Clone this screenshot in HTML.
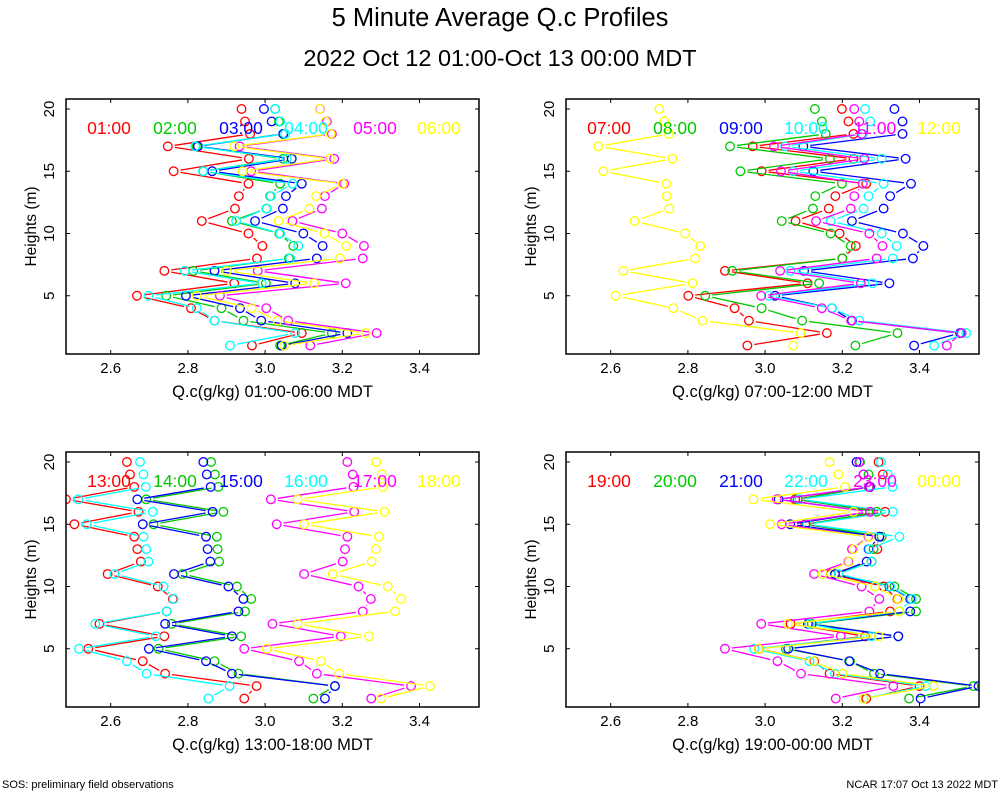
<!DOCTYPE html>
<html><head><meta charset="utf-8"><style>
body{margin:0;background:#fff;}
svg{display:block;font-family:"Liberation Sans",sans-serif;}
</style></head><body>
<svg id="chart" width="1000" height="800">
<text x="500" y="26" font-size="25.5" text-anchor="middle">5 Minute Average Q.c Profiles</text>
<text x="500" y="66" font-size="23.5" text-anchor="middle">2022 Oct 12 01:00-Oct 13 00:00 MDT</text>
<text x="2" y="788" font-size="11">SOS: preliminary field observations</text>
<text x="998" y="788" font-size="11" text-anchor="end">NCAR 17:07 Oct 13 2022 MDT</text>
</svg>
<script>
const heights=[20,19,18,17,16,15,14,13,12,11,10,9,8,7,6,5,4,3,2,1];
const xTicks=[2.6,2.8,3.0,3.2,3.4];
const xTickLabels=["2.6","2.8","3.0","3.2","3.4"];
const yTicks=[5,10,15,20];
const colors=["#ff0000","#00c800","#0000ff","#00ffff","#ff00ff","#ffff00"];
const p1Labels=["01:00","02:00","03:00","04:00","05:00","06:00"];
const p2Labels=["07:00","08:00","09:00","10:00","11:00","12:00"];
const p3Labels=["13:00","14:00","15:00","16:00","17:00","18:00"];
const p4Labels=["19:00","20:00","21:00","22:00","23:00","00:00"];
const p1Red=[2.939,2.948,2.961,2.748,2.958,2.763,2.957,2.932,2.922,2.836,2.957,2.993,2.979,2.739,2.920,2.668,2.808,2.869,3.095,2.966];
const p1Green=[3.026,3.036,3.047,2.823,3.047,2.840,3.039,3.013,3.004,2.914,3.037,3.073,3.062,2.814,3.002,2.744,2.887,2.944,3.173,3.039];
const p1Blue=[2.997,3.017,3.047,2.826,3.069,2.863,3.095,3.054,3.046,2.974,3.099,3.149,3.134,2.869,3.078,2.795,2.935,2.990,3.213,3.043];
const p1Cyan=[3.026,3.039,3.052,2.819,3.056,2.839,3.071,3.015,3.003,2.925,3.039,3.086,3.065,2.792,2.991,2.698,2.823,2.869,3.078,2.909];
const p1Magenta=[3.142,3.160,3.173,2.934,3.179,2.964,3.205,3.155,3.147,3.071,3.200,3.256,3.253,2.981,3.209,2.883,3.003,3.060,3.289,3.117];
const p1Yellow=[3.141,3.157,3.170,2.920,3.168,2.942,3.201,3.132,3.115,3.035,3.154,3.210,3.194,2.901,3.127,2.823,2.965,3.032,3.261,3.049];
const p2Red=[3.199,3.216,3.229,2.968,3.229,2.991,3.262,3.182,3.165,3.079,3.193,3.235,3.200,2.896,3.110,2.801,2.921,2.958,3.160,2.954];
const p2Green=[3.129,3.147,3.157,2.909,3.168,2.936,3.199,3.130,3.124,3.043,3.170,3.222,3.200,2.915,3.140,2.845,2.991,3.096,3.343,3.234];
const p2Blue=[3.335,3.356,3.356,3.099,3.364,3.125,3.378,3.324,3.307,3.225,3.357,3.410,3.383,3.101,3.322,3.026,3.173,3.225,3.505,3.386];
const p2Cyan=[3.259,3.272,3.253,3.052,3.302,3.073,3.307,3.268,3.255,3.170,3.302,3.341,3.331,3.065,3.278,3.010,3.173,3.244,3.521,3.438];
const p2Magenta=[3.231,3.244,3.250,3.023,3.257,3.041,3.253,3.231,3.222,3.132,3.270,3.304,3.289,3.039,3.248,2.990,3.147,3.223,3.509,3.471];
const p2Yellow=[2.726,2.739,2.751,2.568,2.760,2.581,2.744,2.745,2.752,2.662,2.793,2.832,2.819,2.633,2.812,2.613,2.762,2.838,3.092,3.073];
const p3Red=[2.642,2.650,2.661,2.484,2.672,2.506,2.661,2.669,2.678,2.592,2.722,2.761,2.745,2.571,2.739,2.542,2.683,2.741,2.978,2.946];
const p3Green=[2.860,2.870,2.879,2.692,2.892,2.711,2.875,2.877,2.881,2.786,2.927,2.964,2.948,2.758,2.938,2.724,2.869,2.931,3.181,3.125];
const p3Blue=[2.840,2.849,2.859,2.669,2.864,2.683,2.847,2.851,2.858,2.764,2.905,2.944,2.931,2.741,2.914,2.699,2.847,2.914,3.181,3.155];
const p3Cyan=[2.676,2.685,2.691,2.516,2.709,2.538,2.685,2.692,2.698,2.610,2.737,2.763,2.745,2.560,2.717,2.518,2.642,2.693,2.908,2.853];
const p3Magenta=[3.213,3.227,3.229,3.015,3.231,3.030,3.213,3.207,3.201,3.101,3.242,3.274,3.253,3.019,3.196,2.946,3.088,3.134,3.378,3.275];
const p3Yellow=[3.288,3.302,3.305,3.084,3.309,3.101,3.295,3.287,3.276,3.175,3.318,3.352,3.337,3.084,3.269,3.004,3.145,3.192,3.427,3.301];
const p4Red=[3.294,3.305,3.272,3.078,3.311,3.104,3.296,3.291,3.276,3.170,3.307,3.343,3.324,3.066,3.259,2.984,3.127,3.167,3.400,3.262];
const p4Green=[3.246,3.268,3.268,3.084,3.289,3.108,3.302,3.281,3.276,3.181,3.335,3.391,3.391,3.121,3.345,3.054,3.220,3.282,3.540,3.373];
const p4Blue=[3.237,3.255,3.272,3.035,3.272,3.065,3.296,3.268,3.263,3.181,3.322,3.376,3.376,3.111,3.345,3.060,3.218,3.298,3.553,3.403];
const p4Cyan=[3.300,3.318,3.330,3.089,3.331,3.110,3.348,3.270,3.276,3.190,3.324,3.380,3.348,3.115,3.275,2.972,3.115,3.181,3.416,3.255];
const p4Magenta=[3.244,3.255,3.269,3.030,3.272,3.043,3.268,3.225,3.216,3.127,3.250,3.296,3.270,2.990,3.196,2.896,3.032,3.093,3.332,3.183];
const p4Yellow=[3.167,3.190,3.207,2.970,3.229,3.013,3.270,3.229,3.218,3.149,3.285,3.345,3.347,3.059,3.295,2.983,3.125,3.201,3.436,3.256];

const NS="http://www.w3.org/2000/svg";
const svg=document.getElementById('chart');
function mk(tag,attrs,parent){const e=document.createElementNS(NS,tag);for(const k in attrs)e.setAttribute(k,attrs[k]);(parent||svg).appendChild(e);return e;}

const panels=[
 {ox:0,oy:0,labels:p1Labels,series:[p1Red,p1Green,p1Blue,p1Cyan,p1Magenta,p1Yellow],title:"Q.c(g/kg) 01:00-06:00 MDT"},
 {ox:500,oy:0,labels:p2Labels,series:[p2Red,p2Green,p2Blue,p2Cyan,p2Magenta,p2Yellow],title:"Q.c(g/kg) 07:00-12:00 MDT"},
 {ox:0,oy:353,labels:p3Labels,series:[p3Red,p3Green,p3Blue,p3Cyan,p3Magenta,p3Yellow],title:"Q.c(g/kg) 13:00-18:00 MDT"},
 {ox:500,oy:353,labels:p4Labels,series:[p4Red,p4Green,p4Blue,p4Cyan,p4Magenta,p4Yellow],title:"Q.c(g/kg) 19:00-00:00 MDT"}
];
const legendX=[109,175,241,306,375,439];

panels.forEach((p,pi)=>{
  const g=mk('g',{});
  
  
  const L=66+p.ox,R=479+p.ox,T=99+p.oy,B=354+p.oy;
  const xs=v=>110.7+p.ox+(v-2.6)*386;
  const ys=h=>109+p.oy+(20-h)*12.45;
  const clip='clip'+pi;
  const cp=mk('clipPath',{id:clip},g);mk('rect',{x:L,y:T,width:R-L,height:B-T},cp);
  p.series.forEach((vals,si)=>{
    const sg=mk('g',{'clip-path':'url(#'+clip+')'},g);
    
    
    for(let i=2;i<heights.length-1;i++){
      const x1=xs(vals[i]),y1=ys(heights[i]),x2=xs(vals[i+1]),y2=ys(heights[i+1]);
      const dx=x2-x1,dy=y2-y1,d=Math.hypot(dx,dy),gap=7;
      if(d>2*gap){
        const ln=mk('line',{x1:x1+dx/d*gap,y1:y1+dy/d*gap,x2:x2-dx/d*gap,y2:y2-dy/d*gap,stroke:colors[si],'stroke-width':1.3},sg);
        
        
      }
    }
    vals.forEach((v,i)=>{
      const c=mk('circle',{cx:xs(v),cy:ys(heights[i]),r:4.3,fill:'none',stroke:colors[si],'stroke-width':1.3},sg);
      
      
    });
  });
  p.labels.forEach((lb,si)=>{
    const t=mk('text',{x:legendX[si]+p.ox,y:134+p.oy,'font-size':17.5,'text-anchor':'middle',fill:colors[si]},g);
    t.textContent=lb;
    
    
  });
  const fr=mk('rect',{x:L,y:T,width:R-L,height:B-T,fill:'none',stroke:'#000','stroke-width':1.5},g);
  
  
  xTicks.forEach((v,i)=>{
    const x=xs(v);
    mk('line',{x1:x,y1:B,x2:x,y2:B-4,stroke:'#000'},g);
    mk('line',{x1:x,y1:T,x2:x,y2:T+4,stroke:'#000'},g);
    const t=mk('text',{x:x,y:B+19,'font-size':15,'text-anchor':'middle'},g);
    t.textContent=xTickLabels[i];
    
    
  });
  yTicks.forEach(h=>{
    const y=ys(h);
    mk('line',{x1:L,y1:y,x2:L+4,y2:y,stroke:'#000'},g);
    mk('line',{x1:R,y1:y,x2:R-4,y2:y,stroke:'#000'},g);
    const t=mk('text',{x:0,y:0,'font-size':15,'text-anchor':'middle',transform:'translate('+(L-12)+','+y+') rotate(-90)'},g);
    t.textContent=String(h);
    
    
  });
  const yt=mk('text',{x:0,y:0,'font-size':15.5,'text-anchor':'middle',transform:'translate('+(L-30)+','+((T+B)/2)+') rotate(-90)'},g);
  yt.textContent='Heights (m)';
  
  
  const xt=mk('text',{x:(L+R)/2,y:B+43,'font-size':16.5,'text-anchor':'middle'},g);
  xt.textContent=p.title;
  
  
});
</script>
</body></html>
